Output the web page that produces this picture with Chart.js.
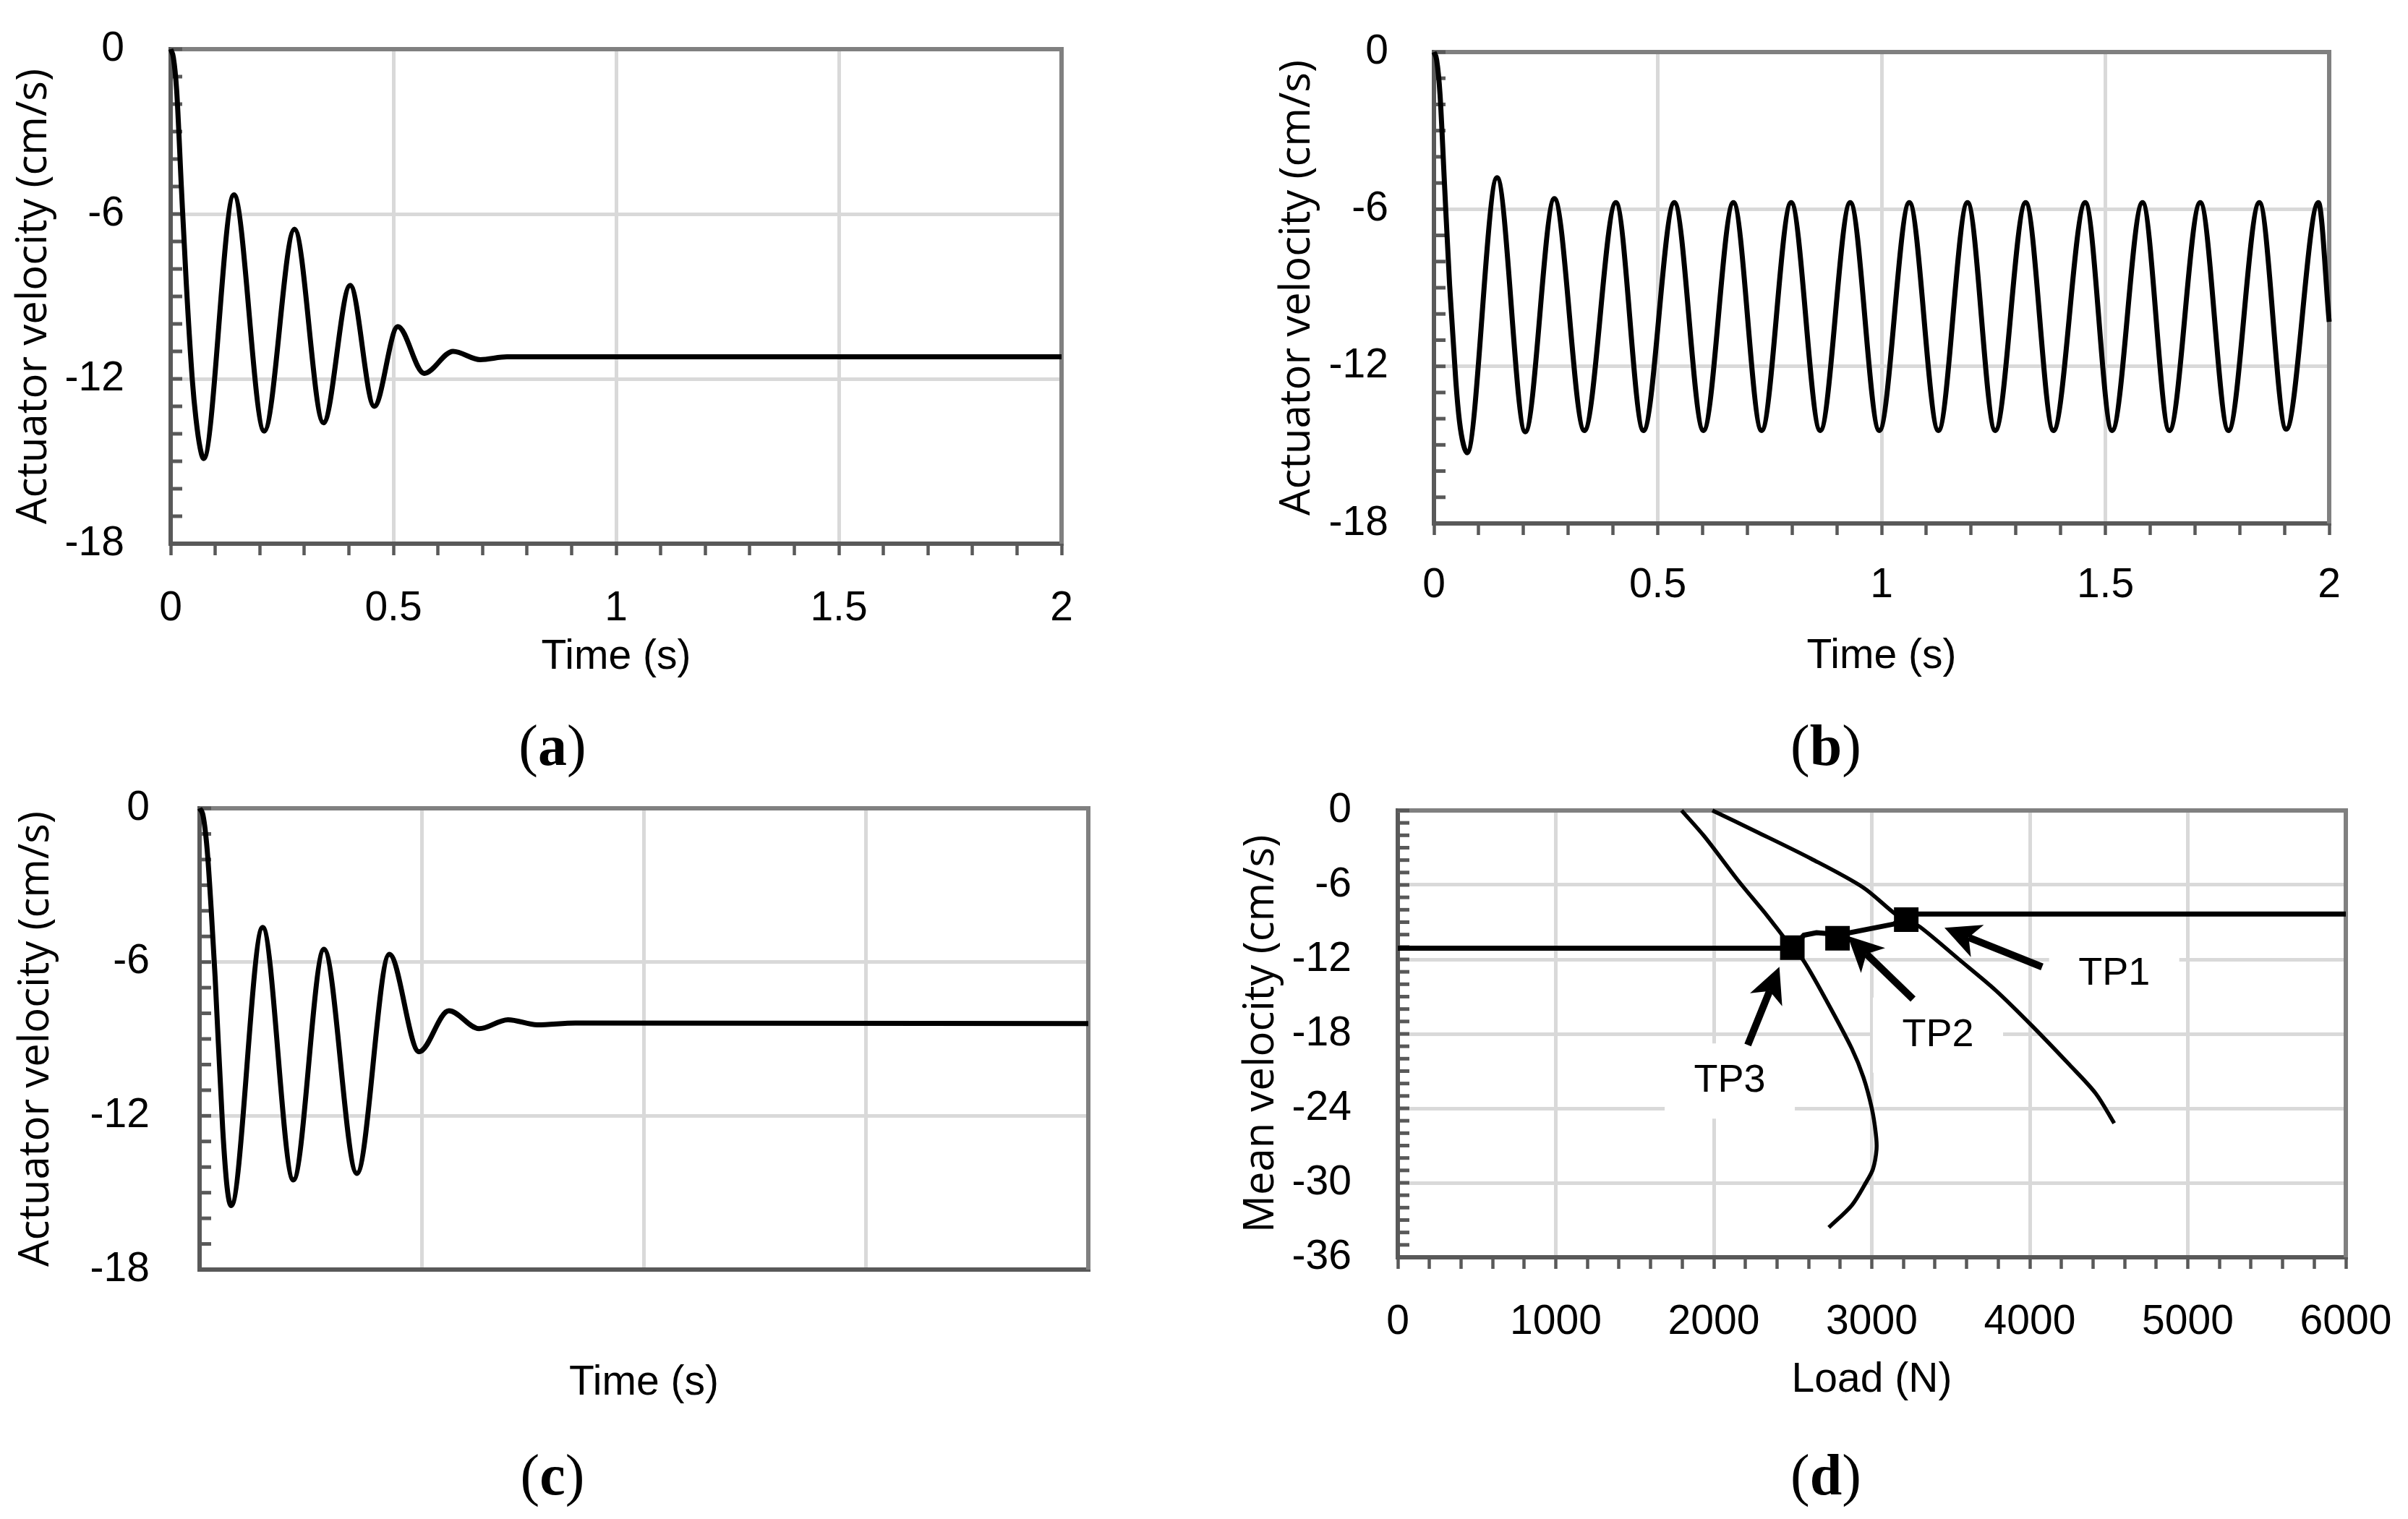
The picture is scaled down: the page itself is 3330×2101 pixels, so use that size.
<!DOCTYPE html>
<html>
<head>
<meta charset="utf-8">
<title>Actuator velocity</title>
<script src="https://cdn.jsdelivr.net/npm/chart.js@4.4.1/dist/chart.umd.min.js"></script>
<style>
  html, body { margin: 0; padding: 0; background: #fff; }
  body { position: relative; width: 3330px; height: 2101px; overflow: hidden; }
  canvas { position: absolute; }
  .panel-label { position: absolute; transform: translate(-50%, -50%); font-family: "Liberation Serif", "DejaVu Serif", serif; font-size: 80px; line-height: 1; color: #000; white-space: nowrap; }
</style>
</head>
<body>
<canvas id="chartA" width="1560" height="943" style="left:0;top:0"></canvas>
<canvas id="chartB" width="1566" height="942" style="left:1747px;top:0"></canvas>
<canvas id="chartC" width="1597" height="897" style="left:0;top:1050px"></canvas>
<canvas id="chartD" width="1651" height="890" style="left:1697px;top:1053px"></canvas>
<div class="panel-label" style="left:764px;top:1031px">(<b>a</b>)</div>
<div class="panel-label" style="left:2525px;top:1031px">(<b>b</b>)</div>
<div class="panel-label" style="left:764px;top:2040px">(<b>c</b>)</div>
<div class="panel-label" style="left:2525px;top:2040px">(<b>d</b>)</div>
<script>
// panel (a): damped response
const aTime = [0, 0.006, 0.0135, 0.024, 0.035, 0.0487, 0.0568, 0.066, 0.074,
    0.142, 0.210, 0.278, 0.343, 0.403, 0.457, 0.510, 0.569, 0.634, 0.695, 0.755, 2.0];
const aVel = [0, -0.3, -1.5, -5.0, -8.5, -12.05, -13.45, -14.5, -14.9,
    -5.3, -13.9, -6.55, -13.6, -8.6, -13.0, -10.1, -11.8, -11.0, -11.3, -11.2, -11.2];

// panel (b): sustained oscillation
const bTime = [0, 0.006, 0.0135, 0.024, 0.035, 0.049, 0.057, 0.066, 0.074,
    0.141, 0.204, 0.269,
    0.336, 0.4065, 0.468, 0.537, 0.602, 0.669, 0.732, 0.798, 0.863, 0.930,
    0.995, 1.062, 1.127, 1.192, 1.254, 1.322, 1.384, 1.455, 1.515, 1.583,
    1.643, 1.712, 1.775, 1.844, 1.904, 1.976, 2.0];
const bVel = [0, -0.3, -1.6, -5.2, -8.9, -12.6, -14.1, -15.0, -15.3,
    -4.8, -14.5, -5.6,
    -14.45, -5.75, -14.45, -5.75, -14.45, -5.75, -14.45, -5.75, -14.45, -5.75,
    -14.45, -5.75, -14.45, -5.75, -14.45, -5.75, -14.45, -5.75, -14.45, -5.75,
    -14.45, -5.75, -14.45, -5.75, -14.4, -5.75, -10.3];

// panel (c): damped response, lower settle value
const cTime = [0, 0.008, 0.017, 0.026, 0.035, 0.052, 0.062, 0.071,
    0.142, 0.211, 0.280, 0.354, 0.427, 0.494, 0.561, 0.629, 0.694, 0.760, 0.846, 2.0];
const cVel = [0, -0.3, -1.6, -3.9, -6.6, -12.5, -14.8, -15.5,
    -4.65, -14.5, -5.5, -14.25, -5.7, -9.5, -7.9, -8.6, -8.25, -8.45, -8.38, -8.4];

// panel (d): load vs mean velocity
const dCurveAL = [1796, 1941, 2151, 2339, 2430, 2497, 2568, 2712, 2874, 2947, 3000, 3025, 3030, 3007, 2962, 2874, 2728];
const dCurveAV = [0, -2.1, -5.6, -8.5, -10.0, -11.1, -12.1, -15.3, -19.2, -21.5, -24.0, -26.0, -27.3, -28.9, -30.0, -31.8, -33.6];
const dCurveBL = [1991, 2268, 2618, 2945, 3145, 3218, 3307, 3552, 3785, 4018, 4252, 4417, 4534];
const dCurveBV = [0, -1.7, -3.9, -6.2, -8.3, -8.8, -9.4, -12.0, -14.5, -17.4, -20.5, -22.8, -25.2];
const dOperL = [0, 2495, 2570, 2650, 2800, 3140, 3230, 6000];
const dOperV = [-11.1, -11.1, -10.05, -9.85, -10.0, -9.15, -8.35, -8.35];

const tpNames = ['TP1', 'TP2', 'TP3'];
const tpLoad = [3218, 2783, 2497];
const tpVel = [-8.8, -10.3, -11.05];
const tpTextL = [4534, 3419, 2101];
const tpTextV = [-13.15, -18.1, -21.8];
const arrowTailL = [4078, 3261, 2215];
const arrowTailV = [-12.6, -15.2, -18.9];
const arrowTipL = [3460, 2847, 2415];
const arrowTipV = [-9.45, -10.1, -12.6];

Chart.defaults.color = '#000';
Chart.defaults.font.family = "'Liberation Sans', Arial, sans-serif";

const pts = (xs, ys) => xs.map((x, i) => ({x, y: ys[i]}));
const isMult = (v, step) => Math.abs(v / step - Math.round(v / step)) < 1e-6;

// top/right frame and the small inward ticks on the value axis
const plotFrame = {
    id: 'plotFrame',
    beforeDatasetsDraw(chart) {
        const {ctx, chartArea: a} = chart;
        const y = chart.scales.y;
        ctx.save();
        ctx.strokeStyle = '#808080';
        ctx.lineWidth = 6;
        ctx.beginPath();
        ctx.moveTo(a.left, a.top);
        ctx.lineTo(a.right, a.top);
        ctx.lineTo(a.right, a.bottom);
        ctx.stroke();
        ctx.strokeStyle = '#595959';
        ctx.lineWidth = 5;
        y.ticks.forEach(t => {
            const p = y.getPixelForValue(t.value);
            ctx.beginPath();
            ctx.moveTo(a.left, p);
            ctx.lineTo(a.left + 16, p);
            ctx.stroke();
        });
        ctx.restore();
    }
};

const drawArrow = (ctx, x1, y1, x2, y2) => {
    const ang = Math.atan2(y2 - y1, x2 - x1);
    const c = Math.cos(ang), s = Math.sin(ang);
    const len = 49, half = 24, notch = 36;
    const bx = x2 - c * notch, by = y2 - s * notch;
    const hx = x2 - c * len, hy = y2 - s * len;
    ctx.lineWidth = 10;
    ctx.beginPath();
    ctx.moveTo(x1, y1);
    ctx.lineTo(bx, by);
    ctx.stroke();
    ctx.beginPath();
    ctx.moveTo(x2, y2);
    ctx.lineTo(hx - s * half, hy + c * half);
    ctx.lineTo(bx, by);
    ctx.lineTo(hx + s * half, hy - c * half);
    ctx.closePath();
    ctx.fill();
};

// arrows and TP labels for panel (d)
const tpNotes = {
    id: 'tpNotes',
    beforeDatasetsDraw(chart) {
        const {ctx, scales: {x, y}} = chart;
        ctx.save();
        ctx.fillStyle = '#fff';
        tpNames.forEach((n, i) => {
            const px = x.getPixelForValue(tpTextL[i]);
            const py = y.getPixelForValue(tpTextV[i]);
            ctx.fillRect(px - 90, py - 52, 180, 104);
        });
        ctx.restore();
    },
    afterDatasetsDraw(chart) {
        const {ctx, scales: {x, y}} = chart;
        ctx.save();
        ctx.strokeStyle = '#000';
        ctx.fillStyle = '#000';
        arrowTailL.forEach((l, i) => {
            drawArrow(ctx, x.getPixelForValue(l), y.getPixelForValue(arrowTailV[i]),
                x.getPixelForValue(arrowTipL[i]), y.getPixelForValue(arrowTipV[i]));
        });
        ctx.font = "54px 'Liberation Sans', Arial, sans-serif";
        ctx.textAlign = 'center';
        ctx.textBaseline = 'middle';
        tpNames.forEach((n, i) => {
            ctx.fillText(n, x.getPixelForValue(tpTextL[i]), y.getPixelForValue(tpTextV[i]));
        });
        ctx.restore();
    }
};

const lineSet = (data, width, extra = {}) => Object.assign({
    data,
    borderColor: '#000',
    borderWidth: width,
    pointRadius: 0,
    fill: false,
    clip: false
}, extra);

const makePanel = (element, cfg) => {
    const canvas = document.getElementById(element);
    if (!canvas) {
        console.error(`Element ${element} not found`);
        return;
    }
    const ctx = canvas.getContext('2d');
    return new Chart(ctx, {
        type: 'line',
        data: {datasets: cfg.datasets},
        options: {
            responsive: false,
            animation: false,
            devicePixelRatio: 1,
            layout: {padding: {top: cfg.padTop, right: cfg.padRight, bottom: 0, left: 0}},
            plugins: {legend: {display: false}, tooltip: {enabled: false}},
            scales: {
                x: {
                    type: 'linear',
                    min: cfg.xMin,
                    max: cfg.xMax,
                    afterFit: s => { s.height = cfg.xHeight; },
                    border: {color: '#595959', width: 6},
                    grid: {
                        color: c => (c.tick && isMult(c.tick.value, cfg.xMajor) &&
                            c.tick.value > cfg.xMin && c.tick.value < cfg.xMax) ? '#d9d9d9' : 'rgba(0,0,0,0)',
                        lineWidth: 5,
                        drawTicks: cfg.xTicks,
                        tickLength: 16,
                        tickColor: '#595959',
                        tickWidth: 4.5
                    },
                    ticks: {
                        display: cfg.xTicks,
                        stepSize: cfg.xStep,
                        autoSkip: false,
                        maxRotation: 0,
                        padding: cfg.xPad,
                        font: {size: 57},
                        callback: v => isMult(v, cfg.xMajor) ? String(+v.toFixed(3)) : ''
                    },
                    title: {
                        display: true,
                        text: cfg.xTitle,
                        font: {size: 57},
                        padding: {top: 0, bottom: 0}
                    }
                },
                y: {
                    type: 'linear',
                    min: cfg.yMin,
                    max: 0,
                    afterFit: s => { s.width = cfg.yWidth; },
                    border: {color: '#595959', width: 6},
                    grid: {
                        color: c => (c.tick && isMult(c.tick.value, 6) &&
                            c.tick.value > cfg.yMin && c.tick.value < 0) ? '#d9d9d9' : 'rgba(0,0,0,0)',
                        lineWidth: 5,
                        // invisible outer ticks only push the labels away from the axis
                        drawTicks: true,
                        tickLength: cfg.yPad,
                        tickColor: 'rgba(0,0,0,0)'
                    },
                    ticks: {
                        stepSize: 1,
                        autoSkip: false,
                        padding: 0,
                        font: {size: 57},
                        callback: v => isMult(v, 6) ? String(v) : ''
                    },
                    title: {
                        display: true,
                        text: cfg.yTitle,
                        font: {family: "'Open Sans', 'DejaVu Sans', sans-serif", size: 58},
                        padding: {top: cfg.yTitlePad, bottom: 0}
                    }
                }
            }
        },
        plugins: [plotFrame].concat(cfg.extra || [])
    });
};

const timeAxis = {xMin: 0, xMax: 2, xStep: 0.1, xMajor: 0.5, yMin: -18,
    xTitle: 'Time (s)', yTitle: 'Actuator velocity (cm/s)'};

makePanel('chartA', Object.assign({}, timeAxis, {
    padTop: 68, padRight: 92, yWidth: 236, xHeight: 191, xPad: 40, yPad: 64, yTitlePad: 13, xTicks: true,
    datasets: [lineSet(pts(aTime, aVel), 7, {cubicInterpolationMode: 'monotone'})]
}));

makePanel('chartB', Object.assign({}, timeAxis, {
    padTop: 72, padRight: 92, yWidth: 236, xHeight: 218, xPad: 36, yPad: 63, yTitlePad: 13, xTicks: true,
    datasets: [lineSet(pts(bTime, bVel), 7, {cubicInterpolationMode: 'monotone'})]
}));

makePanel('chartC', Object.assign({}, timeAxis, {
    padTop: 68, padRight: 92, yWidth: 276, xHeight: 191, xPad: 40, yPad: 69, yTitlePad: 16, xTicks: false,
    datasets: [lineSet(pts(cTime, cVel), 7, {cubicInterpolationMode: 'monotone'})]
}));

makePanel('chartD', {
    xMin: 0, xMax: 6000, xStep: 200, xMajor: 1000, yMin: -36,
    xTitle: 'Load (N)', yTitle: 'Mean velocity (cm/s)',
    padTop: 68, padRight: 104, yWidth: 236, xHeight: 204, xPad: 40, yPad: 64, yTitlePad: 13, xTicks: true,
    extra: [tpNotes],
    datasets: [
        lineSet(pts(dCurveAL, dCurveAV), 5.5, {tension: 0.3}),
        lineSet(pts(dCurveBL, dCurveBV), 5.5, {tension: 0.3}),
        lineSet(pts(dOperL, dOperV), 7),
        {
            data: pts(tpLoad, tpVel),
            showLine: false,
            pointStyle: 'rect',
            pointRadius: 24,
            pointBackgroundColor: '#000',
            pointBorderWidth: 0,
            clip: false
        }
    ]
});
</script>
</body>
</html>
